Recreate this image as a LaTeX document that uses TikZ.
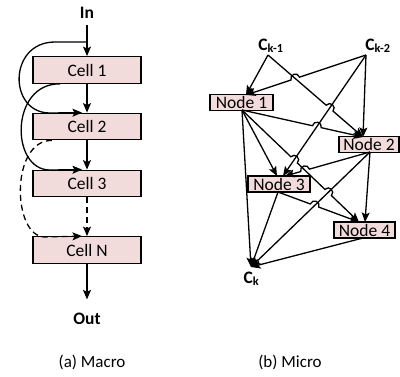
\documentclass[tikz,border=0pt]{standalone}
\usepackage{fontspec}
\setmainfont{Carlito}
\usetikzlibrary{arrows.meta,calc}
\definecolor{cellpink}{HTML}{F2DCDB}
\begin{document}
\begin{tikzpicture}[x=1pt,y=-1pt,
  line width=1.3pt,
  >={Stealth[length=9.5pt,width=8pt,inset=2pt]},
  cell/.style={draw=black,fill=cellpink,minimum width=108pt,minimum height=26.5pt,inner sep=0pt,font=\fontsize{17.5}{20}\selectfont},
  nodebox/.style={draw=black,fill=cellpink,minimum height=16pt,inner sep=0pt,font=\fontsize{17.5}{20}\selectfont},
  lbl/.style={font=\fontsize{17.5}{20}\selectfont\bfseries,inner sep=0pt,anchor=base},
  captext/.style={font=\fontsize{17}{20}\selectfont,inner sep=0pt,anchor=base},
  hop/.style n args={4}{insert path={-- ($(#1)!4.5pt!(#2)$) to[bend #4=90,looseness=1.7] ($(#1)!4.5pt!(#3)$)}},
]
\useasboundingbox (0,0) rectangle (400,376);

% ---------- (a) Macro ----------
\node[lbl] (in) at (87,18.5) {In};
\node[cell] (c1) at (87,70) {Cell 1};
\node[cell] (c2) at (87,126.5) {Cell 2};
\node[cell] (c3) at (87,183.5) {Cell 3};
\node[cell] (cn) at (87,250) {Cell N};
\node[lbl] (out) at (87,324) {Out};

\coordinate (s1) at (87,42);
\draw[->] ([yshift=-6pt]in.south) -- (c1.north);
\draw[->] (c1.south) -- (c2.north);
\draw[->] (c2.south) -- (c3.north);
\draw[->,dash pattern=on 6pt off 4pt] (c3.south) -- (cn.north);
\draw[->] (cn.south) -- ([yshift=12.5pt]out.north);

\draw[->] (s1) -- (55,42) .. controls (8,42) and (8,113) .. (50,113) -- ([xshift=-5pt]c2.north);
\draw[->] ([xshift=-27pt]c1.south) .. controls (10,83) and (10,170) .. (50,170) -- ([xshift=-5pt]c3.north);
\draw[->,dash pattern=on 6pt off 4pt] ([xshift=-35pt]c2.south) .. controls (10,140) and (12,237) .. (45,237) -- ([xshift=-5pt]cn.north);

\node[captext] (capa) at (92,367) {(a) Macro};

% ---------- (b) Micro ----------
\node[lbl] (ck1) at (271,50) {C\textsubscript{k-1}};
\node[lbl] (ck2) at (378,50) {C\textsubscript{k-2}};
\node[nodebox,minimum width=63pt] (n1) at (241.5,102.5) {Node 1};
\node[nodebox,minimum width=60pt] (n2) at (369,144.5) {Node 2};
\node[nodebox,minimum width=62pt] (n3) at (279,184) {Node 3};
\node[nodebox,minimum width=61pt] (n4) at (364.5,230) {Node 4};
\node[lbl] (ck) at (251.5,283) {C\textsubscript{k}};

\coordinate (k1s) at (268,55);
\coordinate (k2s) at (366,55);
\coordinate (n1t) at (246,95);
\coordinate (n1b) at (242,110);
\coordinate (n2t) at (363,137);
\coordinate (n2b) at (370,152);
\coordinate (n3ta) at (283,176);
\coordinate (n3tb) at (277,176);
\coordinate (n3tc) at (285,176);
\coordinate (n3b) at (278,192);
\coordinate (n4ta) at (359,222);
\coordinate (n4tb) at (365,222);
\coordinate (n4b) at (363,238);
\coordinate (ckt) at (251,267);

\coordinate (xbc) at (intersection of k2s--n1t and k1s--n2t);
\coordinate (xce) at (intersection of k1s--n2t and k2s--n3ta);
\coordinate (xfe) at (intersection of n1b--n2t and k2s--n3ta);
\coordinate (xhe) at (intersection of n1b--n4ta and k2s--n3ta);
\coordinate (xhl) at (intersection of n1b--n4ta and n2b--ckt);
\coordinate (xjh) at (intersection of n2b--n3tc and n1b--n4ta);
\coordinate (xml) at (intersection of n3b--n4ta and n2b--ckt);

\draw[->] (k1s) -- (n1t);
\draw[->] (k2s) [hop={xbc}{k2s}{n1t}{right}] -- (n1t);
\draw[->] (k1s) [hop={xce}{k1s}{n2t}{left}] -- (n2t);
\draw[->] (k2s) -- (n2t);
\draw[->] (k2s) -- (n3ta);
\draw[->] (n1b) [hop={xfe}{n1b}{n2t}{left}] -- (n2t);
\draw[->] (n1b) -- (n3tb);
\draw[->] (n1b) [hop={xhe}{n1b}{n4ta}{left}] [hop={xhl}{n1b}{n4ta}{left}] -- (n4ta);
\draw[->] (n1b) -- (ckt);
\draw[->] (n2b) [hop={xjh}{n2b}{n3tc}{right}] -- (n3tc);
\draw[->] (n2b) -- (n4tb);
\draw[->] (n2b) -- (ckt);
\draw[->] (n3b) [hop={xml}{n3b}{n4ta}{left}] -- (n4ta);
\draw[->] (n3b) -- (ckt);
\draw[->] (n4b) -- (ckt);

\node[captext] (capb) at (290,367) {(b) Micro};
\end{tikzpicture}
\end{document}
